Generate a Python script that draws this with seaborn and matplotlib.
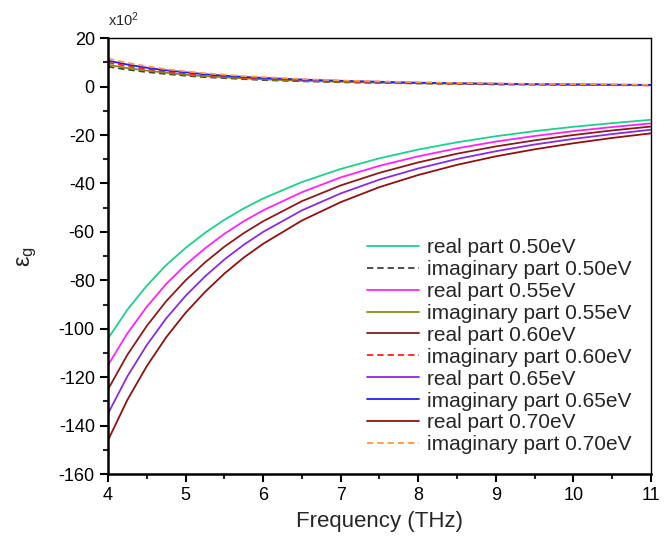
import matplotlib
matplotlib.use("Agg")
import matplotlib.pyplot as plt
from matplotlib.ticker import MultipleLocator
import seaborn as sns

freq = [4, 4.25, 4.5, 4.75, 5, 5.25, 5.5, 5.75, 6, 6.5, 7, 7.5, 8, 8.5, 9, 9.5, 10, 10.5, 11]

real_050 = [-104, -92.1, -82.2, -73.7, -66.6, -60.4, -55.0, -50.3, -46.2, -39.4, -34.0, -29.6, -26.0, -23.0, -20.5, -18.4, -16.6, -15.1, -13.7]
real_055 = [-115, -101.9, -90.9, -81.5, -73.6, -66.8, -60.8, -55.6, -51.1, -43.6, -37.5, -32.7, -28.8, -25.5, -22.7, -20.4, -18.4, -16.7, -15.2]
real_060 = [-125, -110.7, -98.8, -88.6, -80.0, -72.6, -66.1, -60.5, -55.6, -47.3, -40.8, -35.6, -31.3, -27.7, -24.7, -22.2, -20.0, -18.1, -16.5]
real_065 = [-135, -119.6, -106.7, -95.7, -86.4, -78.4, -71.4, -65.3, -60.0, -51.1, -44.1, -38.4, -33.8, -29.9, -26.7, -23.9, -21.6, -19.6, -17.8]
real_070 = [-146, -129.3, -115.4, -103.5, -93.4, -84.8, -77.2, -70.6, -64.9, -55.3, -47.7, -41.5, -36.5, -32.3, -28.8, -25.9, -23.4, -21.2, -19.3]

imag_050 = [8.2, 7.0, 6.0, 5.2, 4.5, 3.9, 3.5, 3.1, 2.7, 2.2, 1.8, 1.5, 1.3, 1.1, 0.9, 0.8, 0.7, 0.6, 0.5]
imag_055 = [9.0, 7.6, 6.6, 5.7, 4.9, 4.3, 3.8, 3.4, 3.0, 2.4, 2.0, 1.6, 1.4, 1.2, 1.0, 0.9, 0.8, 0.7, 0.6]
imag_060 = [9.9, 8.4, 7.2, 6.2, 5.4, 4.8, 4.2, 3.7, 3.3, 2.7, 2.2, 1.8, 1.5, 1.3, 1.1, 1.0, 0.8, 0.7, 0.6]
imag_065 = [10.7, 9.1, 7.8, 6.7, 5.9, 5.1, 4.5, 4.0, 3.6, 2.9, 2.4, 2.0, 1.6, 1.4, 1.2, 1.0, 0.9, 0.8, 0.7]
imag_070 = [11.5, 9.8, 8.4, 7.2, 6.3, 5.5, 4.9, 4.3, 3.9, 3.1, 2.5, 2.1, 1.8, 1.5, 1.3, 1.1, 1.0, 0.9, 0.7]

labels = ["real part 0.50eV", "imaginary part 0.50eV",
          "real part 0.55eV", "imaginary part 0.55eV",
          "real part 0.60eV", "imaginary part 0.60eV",
          "real part 0.65eV", "imaginary part 0.65eV",
          "real part 0.70eV", "imaginary part 0.70eV"]
series = [real_050, imag_050, real_055, imag_055, real_060, imag_060,
          real_065, imag_065, real_070, imag_070]

sns.set_theme(style="ticks")
plt.rcParams['font.family'] = ['Liberation Sans', 'DejaVu Sans']
plt.rcParams['mathtext.fontset'] = 'custom'
plt.rcParams['mathtext.rm'] = 'Liberation Sans'
plt.rcParams['mathtext.it'] = 'Liberation Sans'
plt.rcParams['axes.unicode_minus'] = False

colors = ["#1fd08a", "#404040", "#ff22ff", "#8a8a10", "#8b1a1a",
          "#ff2020", "#8a2be2", "#2020ff", "#901010", "#ff9a40"]
styles = ["-", "--", "-", "-", "-", "--", "-", "-", "-", "--"]

fig = plt.figure(figsize=(6.71, 5.45), dpi=100)
ax = fig.add_axes([0.161, 0.130, 0.809, 0.800])

for vals, lab, c, ls in zip(series, labels, colors, styles):
    sns.lineplot(x=freq, y=vals, ax=ax, color=c, label=lab, linewidth=1.3)
    l = ax.get_lines()[-1]
    l.set_linestyle(ls)
    if ls == "--":
        l.set_dashes((3.5, 2.2))

ax.set_xlim(4, 11)
ax.set_ylim(-160, 20)
ax.xaxis.set_major_locator(MultipleLocator(1))
ax.xaxis.set_minor_locator(MultipleLocator(0.5))
ax.yaxis.set_major_locator(MultipleLocator(20))
ax.yaxis.set_minor_locator(MultipleLocator(10))
ax.tick_params(which='major', direction='out', length=6, width=1.5, labelsize=13, colors='black')
ax.tick_params(which='minor', direction='out', length=3.5, width=1.5)
for side in ['left', 'bottom']:
    ax.spines[side].set_linewidth(1.8)
for side in ['top', 'right']:
    ax.spines[side].set_visible(True)
    ax.spines[side].set_linewidth(1.0)
for s in ax.spines.values():
    s.set_color('black')

ax.set_xlabel("Frequency (THz)", fontsize=16, labelpad=5)
ax.set_ylabel(r"$\mathregular{ε_g}$", fontsize=17, labelpad=14)
ax.text(0.0, 1.02, r"x10$^\mathregular{2}$", transform=ax.transAxes, fontsize=10.5, ha='left', va='bottom')

leg = ax.legend(loc='lower right', frameon=False, fontsize=15, labelspacing=0.14,
                handlelength=2.5, handletextpad=0.35, borderaxespad=0.55,
                bbox_to_anchor=(1.0, 0.0))

fig.savefig("out.png", dpi=100)
